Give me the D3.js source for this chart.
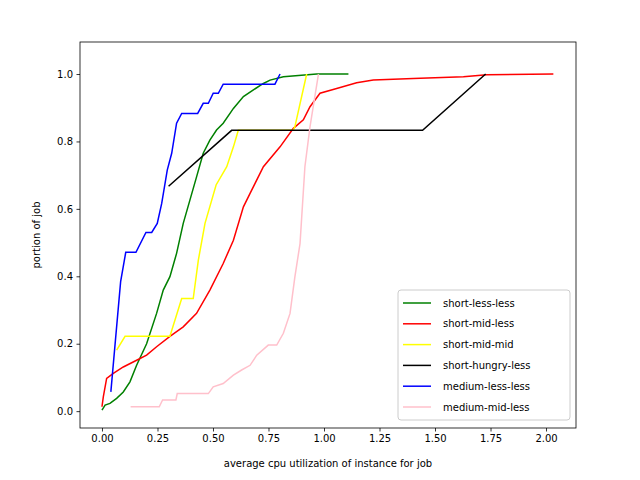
<!DOCTYPE html>
<html lang="en">
<head>
    <meta charset="UTF-8">
    <title>cpu cdf</title>
    <script src="https://cdn.jsdelivr.net/npm/d3@7"></script>
    <style>body{margin:0}</style>
</head>
<body>
<svg width="640" height="480" id="svgcontainer"></svg>
<script>
    const names = ['short-less-less','short-mid-less','short-mid-mid','short-hungry-less','medium-less-less','medium-mid-less'];
    const colors = ['green','red','yellow','black','blue','pink'];

    const shortLessLessX = [0,0.014,0.036,0.066,0.096,0.126,0.156,0.201,0.246,0.276,0.306,0.336,0.366,0.396,0.426,0.456,0.486,0.516,0.546,0.592,0.637,0.682,0.727,0.757,0.817,0.967,1.11];
    const shortLessLessY = [0.003,0.018,0.023,0.038,0.057,0.087,0.136,0.2,0.29,0.359,0.399,0.468,0.557,0.626,0.695,0.765,0.804,0.834,0.854,0.898,0.933,0.953,0.972,0.982,0.992,1.0,1.0];
    const shortMidLessX = [0,0.006,0.021,0.051,0.096,0.156,0.201,0.246,0.306,0.366,0.426,0.486,0.546,0.592,0.637,0.667,0.727,0.802,0.862,0.907,0.937,0.982,1.057,1.147,1.222,1.402,1.628,1.733,2.033];
    const shortMidLessY = [0.013,0.042,0.097,0.112,0.131,0.151,0.166,0.191,0.222,0.25,0.29,0.359,0.438,0.507,0.606,0.646,0.725,0.784,0.839,0.864,0.903,0.943,0.957,0.974,0.982,0.987,0.992,0.998,1.0];
    const shortMidMidX = [0.066,0.104,0.306,0.359,0.411,0.434,0.464,0.514,0.562,0.592,0.614,0.862,0.869,0.922];
    const shortMidMidY = [0.181,0.222,0.222,0.334,0.334,0.448,0.557,0.671,0.725,0.784,0.833,0.833,0.844,1.0];
    const shortHungryLessX = [0.3,0.584,1.444,1.728];
    const shortHungryLessY = [0.667,0.833,0.833,1.0];
    const mediumLessLessX = [0.04,0.084,0.107,0.153,0.198,0.224,0.249,0.269,0.294,0.314,0.336,0.359,0.431,0.456,0.479,0.501,0.524,0.546,0.779,0.802];
    const mediumLessLessY = [0.057,0.384,0.471,0.471,0.53,0.53,0.557,0.616,0.715,0.765,0.854,0.883,0.883,0.913,0.913,0.943,0.943,0.970,0.970,1.0];
    const mediumMidLessX = [0.129,0.258,0.273,0.333,0.339,0.479,0.501,0.546,0.592,0.629,0.667,0.697,0.749,0.787,0.817,0.847,0.869,0.892,0.914,0.937,0.975];
    const mediumMidLessY = [0.013,0.013,0.033,0.033,0.052,0.052,0.072,0.082,0.107,0.122,0.136,0.166,0.196,0.196,0.231,0.29,0.399,0.497,0.725,0.844,1.0];

    const xs = [shortLessLessX,shortMidLessX,shortMidMidX,shortHungryLessX,mediumLessLessX,mediumMidLessX];
    const ys = [shortLessLessY,shortMidLessY,shortMidMidY,shortHungryLessY,mediumLessLessY,mediumMidLessY];
    const xTicks = [0,0.25,0.5,0.75,1.0,1.25,1.5,1.75,2.0];
    const yTicks = [0,0.2,0.4,0.6,0.8,1.0];

    const svg = d3.select('#svgcontainer');
    const pLeft = 80, pRight = 576, pTop = 42, pBottom = 428;
    const xScale = d3.scaleLinear().domain([-0.099,2.135]).range([pLeft,pRight]);
    const yScale = d3.scaleLinear().domain([-0.05,1.095]).range([pBottom,pTop]);
    const font = 'DejaVu Sans, sans-serif';

    svg.append('rect').attr('width',640).attr('height',480).attr('fill','white');

    const line = d3.line().x(d=>xScale(d[0])).y(d=>yScale(d[1]));
    names.forEach((n,i)=>{
        const pts = xs[i].map((x,j)=>[x,ys[i][j]]);
        svg.append('path').datum(pts).attr('d',line).attr('fill','none')
            .attr('stroke',colors[i]).attr('stroke-width',1.5);
    });

    const xAxis = d3.axisBottom(xScale).tickValues(xTicks).tickFormat(d3.format('.2f')).tickSize(3.5).tickPadding(3.5);
    const gx = svg.append('g').attr('transform',`translate(0,${pBottom})`).call(xAxis);
    const yAxis = d3.axisLeft(yScale).tickValues(yTicks).tickFormat(d3.format('.1f')).tickSize(3.5).tickPadding(3.5);
    const gy = svg.append('g').attr('transform',`translate(${pLeft},0)`).call(yAxis);
    [gx,gy].forEach(g=>{
        g.select('.domain').remove();
        g.selectAll('.tick text').attr('font-size',10).attr('font-family',font).attr('fill','black');
        g.selectAll('.tick line').attr('stroke','black').attr('stroke-width',0.8);
    });
    svg.append('rect').attr('x',pLeft).attr('y',pTop).attr('width',pRight-pLeft).attr('height',pBottom-pTop)
        .attr('fill','none').attr('stroke','black').attr('stroke-width',0.8);

    svg.append('text').text('average cpu utilization of instance for job').attr('x',(pLeft+pRight)/2).attr('y',467)
        .attr('text-anchor','middle').attr('font-size',10).attr('font-family',font);
    svg.append('text').text('portion of job').attr('transform',`translate(40,${(pTop+pBottom)/2}) rotate(-90)`)
        .attr('text-anchor','middle').attr('font-size',10).attr('font-family',font);

    // legend
    const lg = svg.append('g').attr('transform','translate(398,290)');
    lg.append('rect').attr('width',172).attr('height',130).attr('rx',3).attr('fill','white')
        .attr('fill-opacity',0.8).attr('stroke','#ccc');
    names.forEach((n,i)=>{
        const y = 13 + i*20.8;
        lg.append('line').attr('x1',5).attr('x2',33).attr('y1',y).attr('y2',y).attr('stroke',colors[i]).attr('stroke-width',1.5);
        lg.append('text').text(n).attr('x',45).attr('y',y+3.5).attr('font-size',10).attr('font-family',font);
    });
</script>
</body>
</html>
